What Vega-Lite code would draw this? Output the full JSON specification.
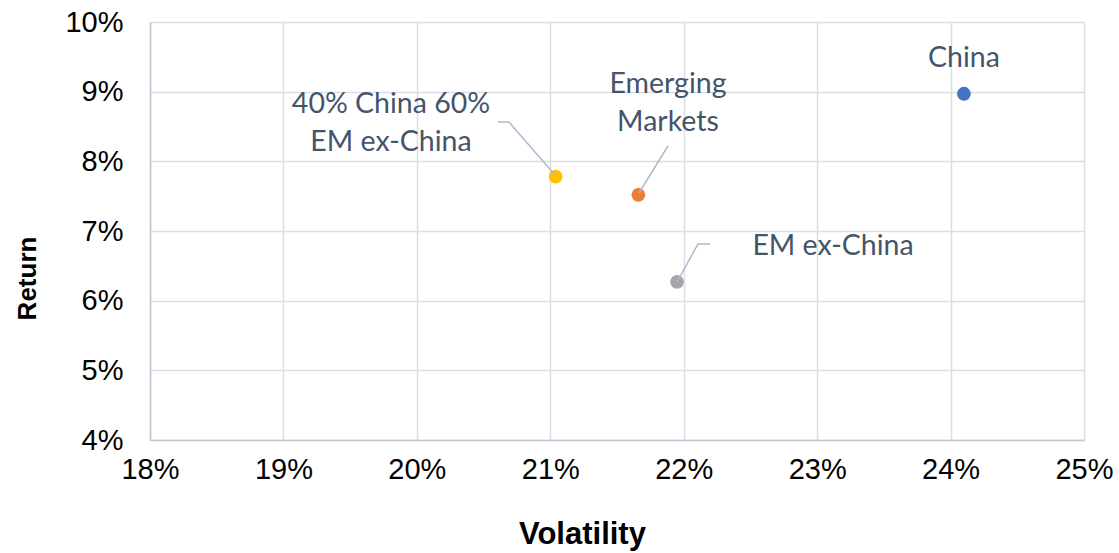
{
  "$schema": "https://vega.github.io/schema/vega-lite/v6.json",
  "autosize": "none",
  "width": 934,
  "height": 418,
  "padding": {"left": 150, "top": 22, "right": 35, "bottom": 113},
  "background": "white",
  "config": {
    "view": {"stroke": null},
    "axis": {
      "labelFont": "Liberation Sans",
      "labelFontSize": 29,
      "labelColor": "#000000",
      "labelOverlap": false,
      "titleFont": "Liberation Sans",
      "titleFontWeight": "bold",
      "titleColor": "#000000",
      "gridColor": "#D9DEE6",
      "gridWidth": 1.5,
      "domainColor": "#BFC6D1",
      "domainWidth": 1.5,
      "ticks": false
    }
  },
  "datasets": {
    "points": [
      {"name": "China", "vol": 0.2410, "ret": 0.0897},
      {"name": "40% China 60% EM ex-China", "vol": 0.2104, "ret": 0.0778},
      {"name": "Emerging Markets", "vol": 0.2166, "ret": 0.0752},
      {"name": "EM ex-China", "vol": 0.2195, "ret": 0.0627}
    ],
    "labels": [
      {"text": "China", "lx": 0.2410, "ly": 0.0948},
      {"text": "Emerging\nMarkets", "lx": 0.21882, "ly": 0.0911},
      {"text": "40% China 60%\nEM ex-China", "lx": 0.19806, "ly": 0.0882},
      {"text": "EM ex-China", "lx": 0.23119, "ly": 0.06785}
    ],
    "leaders": [
      {"series": "a", "ord": 1, "vx": 0.20608, "vy": 0.08565},
      {"series": "a", "ord": 2, "vx": 0.20690, "vy": 0.08565},
      {"series": "a", "ord": 3, "vx": 0.21035, "vy": 0.07804},
      {"series": "b", "ord": 1, "vx": 0.21882, "vy": 0.08220},
      {"series": "b", "ord": 2, "vx": 0.21665, "vy": 0.07546},
      {"series": "c", "ord": 1, "vx": 0.22197, "vy": 0.06814},
      {"series": "c", "ord": 2, "vx": 0.22107, "vy": 0.06814},
      {"series": "c", "ord": 3, "vx": 0.21950, "vy": 0.06268}
    ]
  },
  "layer": [
    {
      "data": {"name": "points"},
      "mark": {"type": "point", "filled": true, "opacity": 1, "size": 190},
      "encoding": {
        "x": {
          "field": "vol", "type": "quantitative",
          "scale": {"domain": [0.18, 0.25], "nice": false, "zero": false},
          "axis": {"title": "Volatility", "titleFontSize": 31, "titleX": 432, "format": ".0%", "values": [0.18, 0.19, 0.20, 0.21, 0.22, 0.23, 0.24, 0.25], "labelPadding": 15, "titlePadding": 35, "labelFlush": false}
        },
        "y": {
          "field": "ret", "type": "quantitative",
          "scale": {"domain": [0.04, 0.10], "nice": false, "zero": false},
          "axis": {"title": "Return", "titleFontSize": 26, "titleY": 256, "format": ".0%", "values": [0.04, 0.05, 0.06, 0.07, 0.08, 0.09, 0.10], "labelPadding": 27, "titlePadding": 24}
        },
        "color": {
          "field": "name", "type": "nominal",
          "scale": {
            "domain": ["China", "40% China 60% EM ex-China", "Emerging Markets", "EM ex-China"],
            "range": ["#4472C4", "#FFC000", "#ED7D31", "#A5A5A5"]
          },
          "legend": null
        }
      }
    },
    {
      "data": {"name": "leaders"},
      "mark": {"type": "line", "color": "#ADB9CA", "strokeWidth": 1.5},
      "encoding": {
        "x": {"field": "vx", "type": "quantitative"},
        "y": {"field": "vy", "type": "quantitative"},
        "detail": {"field": "series"},
        "order": {"field": "ord"}
      }
    },
    {
      "data": {"name": "labels"},
      "mark": {"type": "text", "font": "Lato", "fontSize": 28.5, "color": "#44546A", "align": "center", "baseline": "middle", "lineBreak": "\n", "lineHeight": 38},
      "encoding": {
        "x": {"field": "lx", "type": "quantitative"},
        "y": {"field": "ly", "type": "quantitative"},
        "text": {"field": "text"}
      }
    }
  ]
}
